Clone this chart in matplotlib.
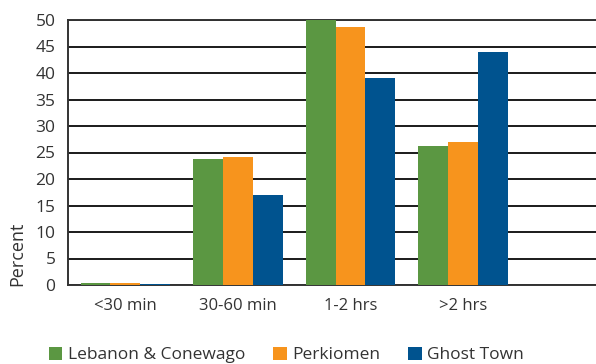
import numpy as np
import matplotlib.pyplot as plt
from matplotlib.patches import Patch

categories = ["<30 min", "30-60 min", "1-2 hrs", ">2 hrs"]
series = ["Lebanon & Conewago", "Perkiomen", "Ghost Town"]
lebanon = [0.4, 23.8, 50.0, 26.2]
perkiomen = [0.4, 24.2, 48.7, 27.0]
ghost_town = [0.2, 17.0, 39.1, 44.0]
colors = ["#5b9742", "#f7941d", "#00538f"]

plt.rcParams["font.family"] = ["Open Sans", "DejaVu Sans"]
text_color = "#333333"

fig = plt.figure(figsize=(5.96, 3.64), dpi=100)
ax = fig.add_axes([68 / 596, 1 - 285 / 364, 1 - 68 / 596, 265 / 364])

x = np.arange(len(categories))
w = 0.265
for i, (vals, c) in enumerate(zip([lebanon, perkiomen, ghost_town], colors)):
    ax.bar(x + (i - 1) * w, vals, width=w, color=c, zorder=3)

ax.set_xlim(-0.51, 4.18)
ax.set_ylim(0, 50)
ax.set_yticks(range(0, 51, 5))
ax.set_xticks(x)
ax.set_xticklabels(categories, fontsize=12)
ax.yaxis.grid(True, color="#1a1a1a", linewidth=1.4, zorder=0)
ax.tick_params(axis="both", length=0, colors=text_color)
ax.tick_params(axis="y", labelsize=12.5, pad=9)
ax.tick_params(axis="x", pad=9)
ax.spines["right"].set_visible(False)
for side in ["left", "bottom", "top"]:
    ax.spines[side].set_color("#333333")
    ax.spines[side].set_linewidth(1.4)

fig.text(17 / 596, 1 - 286 / 364, "Percent", rotation=90, ha="center", va="bottom",
         fontsize=13, color=text_color)

handles = [Patch(facecolor=c) for c in colors]
fig.legend(handles, series, loc="center", bbox_to_anchor=(286 / 596, 1 - 355 / 364),
           ncol=3, frameon=False, fontsize=12.5, handlelength=0.8, handleheight=0.8,
           handletextpad=0.3, columnspacing=1.6, labelcolor=text_color)

fig.savefig("out.png", dpi=100)
